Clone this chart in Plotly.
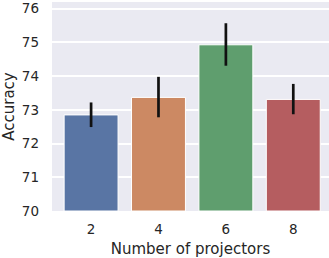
import plotly.graph_objects as go

categories = ["2", "4", "6", "8"]
means = [72.85, 73.37, 74.93, 73.31]
ci_low = [72.49, 72.78, 74.31, 72.87]
ci_high = [73.22, 73.98, 75.57, 73.77]
colors = ["#5975A4", "#CC8963", "#5F9E6E", "#B55D60"]
y_ticks = [70, 71, 72, 73, 74, 75, 76]

xpos = list(range(len(categories)))
err_plus = [h - m for h, m in zip(ci_high, means)]
err_minus = [m - l for m, l in zip(means, ci_low)]

fig = go.Figure(
    go.Bar(
        x=xpos,
        y=[m - 70 for m in means],
        base=70,
        width=0.8,
        marker=dict(color=colors, line=dict(color="white", width=1)),
        error_y=dict(
            type="data",
            symmetric=False,
            array=err_plus,
            arrayminus=err_minus,
            color="#111111",
            thickness=2.7,
            width=0,
        ),
        hoverinfo="skip",
    )
)

font = "DejaVu Sans"
fig.update_layout(
    width=329,
    height=258,
    margin=dict(l=52, r=0, t=2, b=47),
    paper_bgcolor="white",
    plot_bgcolor="#EAEAF2",
    showlegend=False,
    font=dict(family=font, color="#262626", size=13),
    xaxis=dict(
        range=[-0.58, 3.53],
        tickvals=xpos,
        ticktext=categories,
        showgrid=False,
        zeroline=False,
        showline=False,
        ticks="",
        automargin=False,
        ticklabelstandoff=8,
        tickfont=dict(family=font, size=13.5),
        title=dict(text="Number of projectors", font=dict(family=font, size=15), standoff=9),
    ),
    yaxis=dict(
        range=[70, 76.2],
        tickvals=y_ticks,
        showgrid=True,
        gridcolor="white",
        gridwidth=1.5,
        zeroline=False,
        showline=False,
        ticks="",
        automargin=False,
        ticklabelstandoff=12,
        tickfont=dict(family=font, size=13.5),
        title=dict(text="Accuracy", font=dict(family=font, size=15), standoff=4),
    ),
)

fig.write_html(
    "out.html",
    config={"displayModeBar": False},
    post_script="document.body.style.margin='0';document.body.style.overflow='hidden';",
)
